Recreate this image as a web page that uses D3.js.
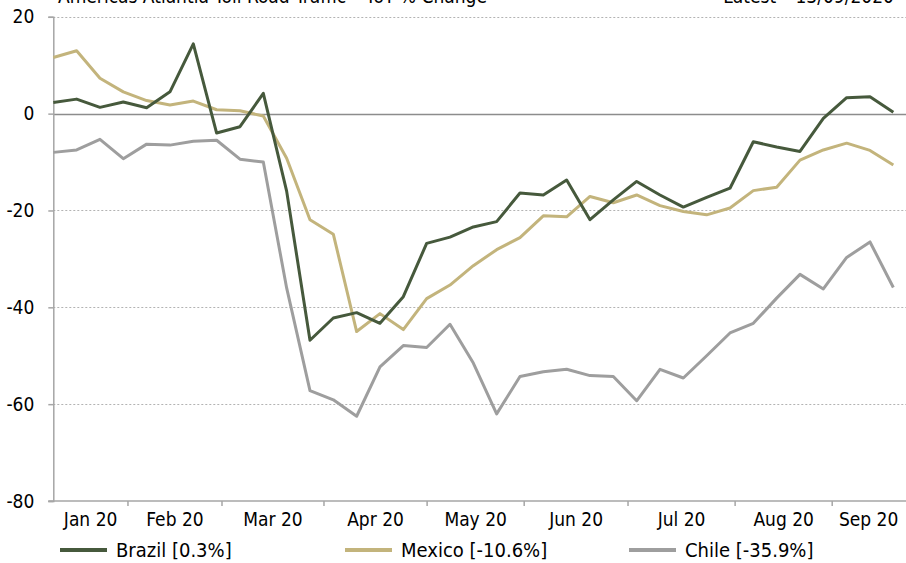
<!DOCTYPE html>
<html>
<head>
<meta charset="utf-8">
<script src="https://cdn.jsdelivr.net/npm/d3@7/dist/d3.min.js"></script>
<style>
  html, body { margin: 0; padding: 0; background: #fff; }
  svg { display: block; }
  text { font-family: "DejaVu Sans Condensed", "DejaVu Sans", sans-serif; fill: #000; }
</style>
</head>
<body>
<svg id="chart" width="906" height="563"></svg>
<script>
// ---- Data (weekly, week ending dates) ----
const titleLeft = "Americas Atlantia Toll Road Traffic \u2013 YoY % Change";
const titleRight = "Latest \u2013 13/09/2020";
const weeks = d3.range(37); // week index 0 = 05/01/2020 ... 36 = 13/09/2020
const brazil = [2.3, 3.0, 1.3, 2.4, 1.2, 4.5, 14.4, -4.0, -2.7, 4.2,
  -16.0, -46.8, -42.2, -41.1, -43.3, -37.8, -26.8, -25.5, -23.4, -22.3,
  -16.4, -16.8, -13.7, -21.9, -17.8, -14.0, -16.8, -19.3, -17.3, -15.4,
  -5.8, -6.9, -7.8, -1.0, 3.3, 3.5, 0.3];
const mexico = [11.6, 13.0, 7.3, 4.5, 2.7, 1.8, 2.6, 0.8, 0.6, -0.5,
  -9.2, -21.9, -24.9, -45.0, -41.3, -44.6, -38.2, -35.4, -31.4, -28.1,
  -25.6, -21.1, -21.3, -17.1, -18.4, -16.8, -19.0, -20.2, -20.9, -19.5,
  -15.9, -15.2, -9.6, -7.5, -6.1, -7.6, -10.6];
const chile = [-8.0, -7.5, -5.3, -9.3, -6.3, -6.5, -5.7, -5.5, -9.4, -10.0,
  -36.0, -57.2, -59.1, -62.5, -52.3, -47.9, -48.3, -43.5, -51.5, -62.0,
  -54.3, -53.3, -52.8, -54.1, -54.3, -59.3, -52.8, -54.6, -50.0, -45.3,
  -43.3, -38.1, -33.2, -36.2, -29.7, -26.5, -35.9];
const seriesNames = ["Brazil [0.3%]", "Mexico [-10.6%]", "Chile [-35.9%]"];
const seriesColors = ["#46593c", "#c3b47c", "#9e9e9e"];
const monthLabels = ["Jan 20", "Feb 20", "Mar 20", "Apr 20", "May 20", "Jun 20", "Jul 20", "Aug 20", "Sep 20"];
// month boundaries expressed in (fractional) week index on the category axis
const monthBounds = [3.2, 7.23, 11.6, 16.02, 20.18, 24.63, 29.22, 33.38];
const yTicks = [20, 0, -20, -40, -60, -80];

// ---- Layout ----
const svg = d3.select("#chart");
const x = d3.scaleLinear().domain([0, 36.5]).range([53.3, 905]);
const y = d3.scaleLinear().domain([-80, 20]).range([501, 16.8]);

// gridlines
const grid = svg.append("g");
yTicks.forEach(t => {
  if (t === -80) return;
  grid.append("line")
    .attr("x1", x(0)).attr("x2", 906)
    .attr("y1", Math.round(y(t)) + 0.5).attr("y2", Math.round(y(t)) + 0.5)
    .attr("stroke", t === 0 ? "#8c8c8c" : "#b3b3b3")
    .attr("stroke-width", t === 0 ? 1.5 : 1)
    .attr("stroke-dasharray", t === 0 ? null : "2,2");
});

// y axis
const yAxis = d3.axisLeft(y).tickValues(yTicks).tickSize(5).tickFormat(d => String(d));
const gy = svg.append("g").attr("transform", `translate(${x(0)},0)`).call(yAxis);
gy.select(".domain").attr("stroke", "#a6a6a6").attr("stroke-width", 1.5);
gy.selectAll(".tick line").attr("stroke", "#a6a6a6").attr("stroke-width", 1.5);
gy.selectAll(".tick text").attr("font-size", 19).attr("x", -19)
  .style("font-family", "'DejaVu Sans Condensed', sans-serif").attr("fill", "#000");

// x axis (category ticks at month boundaries)
const gx = svg.append("g").attr("transform", `translate(0,${y(-80)})`);
gx.append("line").attr("x1", x(0) - 5).attr("x2", 906).attr("y1", 0).attr("y2", 0)
  .attr("stroke", "#a6a6a6").attr("stroke-width", 1.5);
gx.selectAll("line.mt").data(monthBounds).enter().append("line").attr("class", "mt")
  .attr("x1", d => x(d)).attr("x2", d => x(d)).attr("y1", 0).attr("y2", 5)
  .attr("stroke", "#a6a6a6").attr("stroke-width", 1.5);
const edges = [0].concat(monthBounds, [x.domain()[1]]);
gx.selectAll("text").data(monthLabels).enter().append("text")
  .attr("x", (d, i) => x((edges[i] + edges[i + 1]) / 2))
  .attr("y", 25)
  .attr("text-anchor", "middle")
  .attr("font-size", 19)
  .text(d => d);

// lines
const line = d3.line().x((d, i) => x(weeks[i])).y(d => y(d));
[brazil, mexico, chile].slice().reverse().forEach((s, k) => {
  const idx = 2 - k;
  svg.append("path").datum(s)
    .attr("d", line)
    .attr("fill", "none")
    .attr("stroke", seriesColors[idx])
    .attr("stroke-width", 3)
    .attr("stroke-linejoin", "round");
});

// legend
const legendX = [60, 345, 629];
const lg = svg.append("g");
seriesNames.forEach((n, i) => {
  lg.append("line").attr("x1", legendX[i]).attr("x2", legendX[i] + 47)
    .attr("y1", 550).attr("y2", 550)
    .attr("stroke", seriesColors[i]).attr("stroke-width", 4);
  lg.append("text").attr("x", legendX[i] + 56).attr("y", 557)
    .attr("font-size", 20).text(n);
});

// titles (cut off at top in the reference)
svg.append("text").attr("x", 58).attr("y", 2.5).attr("font-size", 19).text(titleLeft);
svg.append("text").attr("x", 894).attr("y", 2.5).attr("font-size", 19)
  .attr("text-anchor", "end").text(titleRight);
</script>
</body>
</html>
